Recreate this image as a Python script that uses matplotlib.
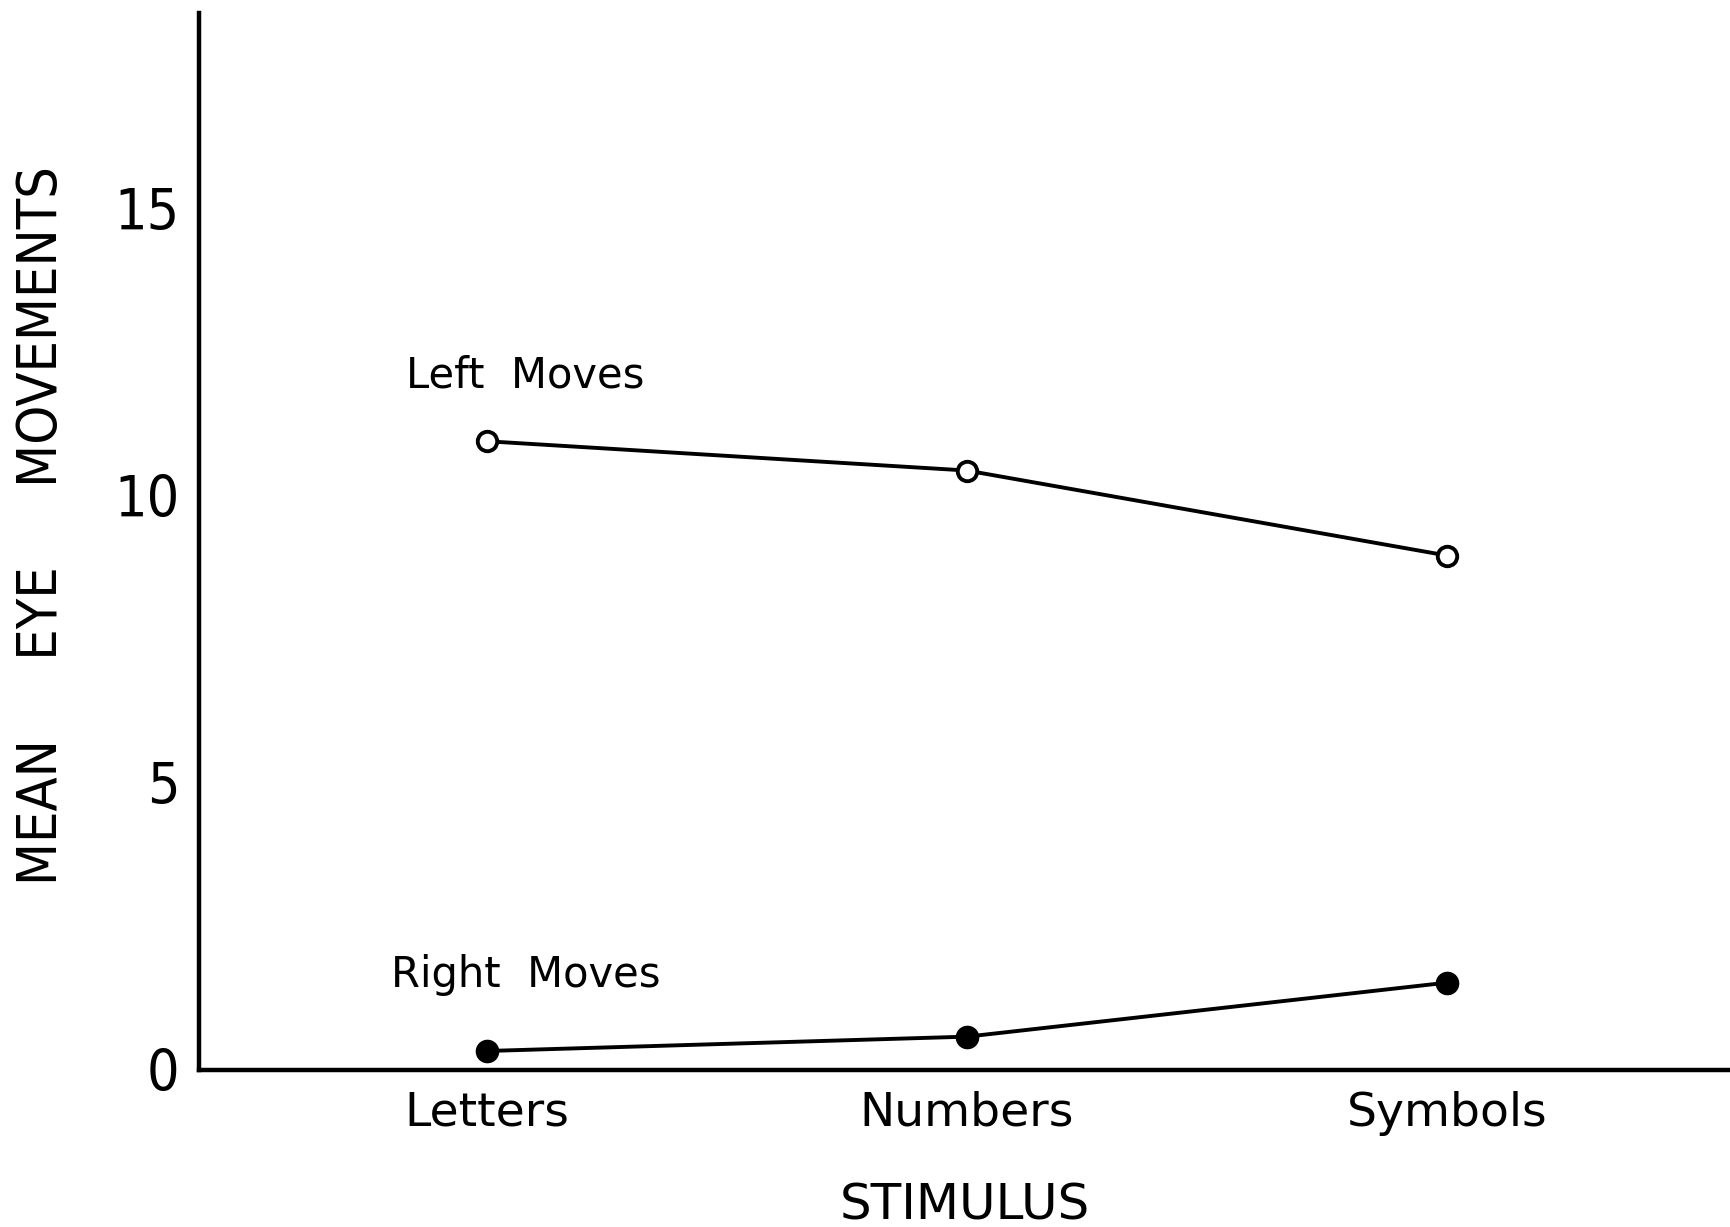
import matplotlib
matplotlib.use("Agg")
import matplotlib.pyplot as plt

plt.rcParams['font.family'] = ['DejaVu Sans']

stimulus = ['Letters', 'Numbers', 'Symbols']
left_moves = [10.95, 10.44, 8.96]
right_moves = [0.33, 0.58, 1.52]
y_ticks = [0, 5, 10, 15]

fig = plt.figure(figsize=(17.3, 12.27), dpi=100)
ax = fig.add_axes([0.115, 0.128, 0.885, 0.861])

x = [1, 2, 3]
ax.plot(x, left_moves, color='black', lw=2.8, marker='o', ms=14,
        mfc='white', mec='black', mew=2.8, zorder=3)
ax.plot(x, right_moves, color='black', lw=2.8, marker='o', ms=16,
        mfc='black', mec='black', zorder=3)

ax.text(1.08, 12.1, 'Left  Moves', fontsize=30, ha='center', va='center')
ax.text(1.08, 1.65, 'Right  Moves', fontsize=30, ha='center', va='center')

ax.set_xlim(0.4, 3.59)
ax.set_ylim(0, 18.4)
ax.set_xticks(x, stimulus, fontsize=34)
ax.set_yticks(y_ticks, [str(v) for v in y_ticks], fontsize=41,
              fontstretch='condensed')
ax.tick_params(length=0, pad=15)
ax.tick_params(axis='y', pad=14)

for side in ('top', 'right'):
    ax.spines[side].set_visible(False)
for side in ('left', 'bottom'):
    ax.spines[side].set_linewidth(3.2)

ax.set_xlabel('STIMULUS', fontsize=36, labelpad=33)
ax.set_ylabel('MEAN     EYE     MOVEMENTS', fontsize=40,
              fontstretch='condensed')
ax.yaxis.set_label_coords(-0.085, 0.515)

fig.savefig('out.png', dpi=100)
